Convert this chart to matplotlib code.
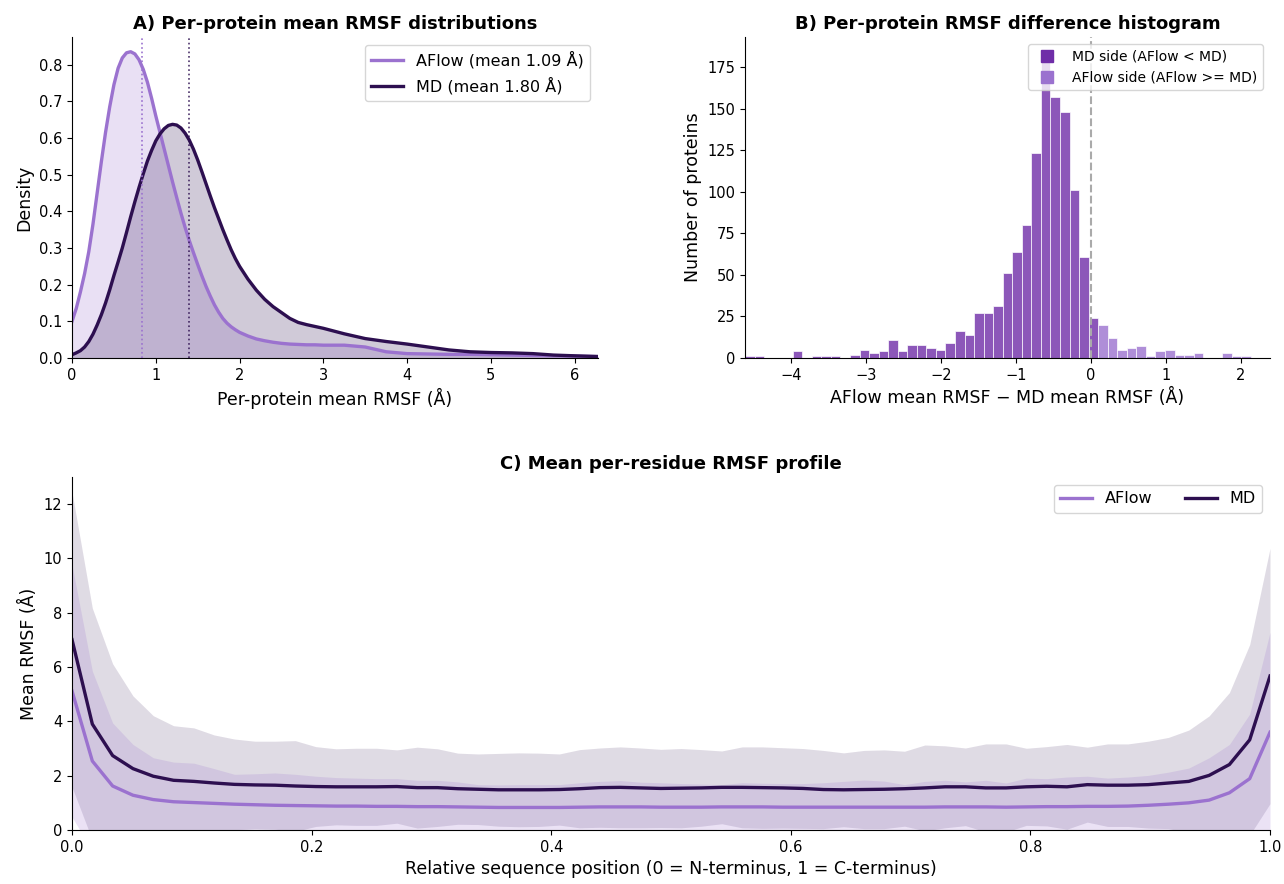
import numpy as np
import matplotlib
matplotlib.use("Agg")
import matplotlib.pyplot as plt
from matplotlib.lines import Line2D

# ---------------- data ----------------
# Panel A: KDE of per-protein mean RMSF
kde_x = [0.0, 0.05, 0.1, 0.15, 0.2, 0.25, 0.3, 0.35, 0.4, 0.45,
         0.5, 0.55, 0.6, 0.65, 0.7, 0.75, 0.8, 0.85, 0.9, 0.95,
         1.0, 1.05, 1.1, 1.15, 1.2, 1.25, 1.3, 1.35, 1.4, 1.45,
         1.5, 1.55, 1.6, 1.65, 1.7, 1.75, 1.8, 1.85, 1.9, 1.95,
         2.0, 2.1, 2.2, 2.3, 2.4, 2.5, 2.6, 2.7, 2.8, 2.9,
         3.0, 3.25, 3.5, 3.75, 4.0, 4.25, 4.5, 4.75, 5.0, 5.25,
         5.5, 5.75, 6.0, 6.28]
kde_aflow = [0.100, 0.135, 0.180, 0.230, 0.290, 0.365, 0.450, 0.535, 0.615, 0.685,
             0.745, 0.790, 0.818, 0.832, 0.835, 0.829, 0.813, 0.787, 0.752, 0.708,
             0.660, 0.615, 0.570, 0.525, 0.480, 0.437, 0.395, 0.356, 0.320, 0.287,
             0.255, 0.224, 0.195, 0.169, 0.145, 0.125, 0.108, 0.095, 0.085, 0.077,
             0.070, 0.060, 0.052, 0.047, 0.043, 0.040, 0.038, 0.037, 0.036, 0.036,
             0.035, 0.035, 0.030, 0.017, 0.012, 0.011, 0.010, 0.010, 0.009, 0.008,
             0.007, 0.006, 0.005, 0.004]
kde_md = [0.009, 0.014, 0.020, 0.030, 0.045, 0.065, 0.090, 0.118, 0.150, 0.186,
          0.225, 0.262, 0.300, 0.342, 0.385, 0.426, 0.465, 0.502, 0.537, 0.566,
          0.592, 0.611, 0.625, 0.634, 0.637, 0.635, 0.627, 0.613, 0.594, 0.569,
          0.540, 0.508, 0.475, 0.442, 0.410, 0.380, 0.350, 0.322, 0.295, 0.271,
          0.250, 0.215, 0.185, 0.160, 0.140, 0.124, 0.108, 0.097, 0.091, 0.086,
          0.081, 0.066, 0.053, 0.045, 0.038, 0.030, 0.022, 0.017, 0.015, 0.014,
          0.012, 0.008, 0.006, 0.004]
median_aflow = 0.84
median_md = 1.40
mean_aflow = 1.09
mean_md = 1.80

# Panel B: histogram of AFlow - MD differences
hist_lo, hist_hi, hist_nbins = -4.61, 2.39, 55
hist_counts = [1, 1, 0, 0, 0, 4, 0, 1, 1, 1,
               0, 2, 5, 3, 4, 11, 4, 8, 8, 6,
               5, 9, 16, 14, 27, 27, 31, 51, 64, 80,
               123, 178, 157, 148, 101, 61, 24, 20, 12, 5,
               6, 7, 1, 4, 5, 2, 2, 3, 0, 0,
               3, 1, 1, 0, 0]

# Panel C: mean per-residue RMSF profile (60 relative positions)
n_pos = 60
md_mean = [7.01, 3.90, 2.74, 2.26, 1.98, 1.83, 1.79, 1.73, 1.68, 1.66,
           1.65, 1.62, 1.60, 1.59, 1.59, 1.59, 1.60, 1.56, 1.56, 1.52,
           1.50, 1.48, 1.48, 1.48, 1.49, 1.52, 1.56, 1.57, 1.55, 1.53,
           1.54, 1.55, 1.57, 1.57, 1.56, 1.55, 1.53, 1.49, 1.48, 1.49,
           1.50, 1.52, 1.55, 1.59, 1.59, 1.55, 1.55, 1.59, 1.61, 1.59,
           1.67, 1.65, 1.65, 1.67, 1.73, 1.79, 2.01, 2.41, 3.32, 5.67]
md_std = [5.43, 4.27, 3.38, 2.68, 2.23, 2.01, 1.97, 1.77, 1.67, 1.61,
          1.62, 1.67, 1.47, 1.40, 1.42, 1.42, 1.35, 1.49, 1.43, 1.31,
          1.30, 1.34, 1.36, 1.35, 1.31, 1.44, 1.46, 1.49, 1.47, 1.44,
          1.46, 1.41, 1.34, 1.49, 1.50, 1.48, 1.47, 1.44, 1.36, 1.44,
          1.45, 1.38, 1.58, 1.51, 1.43, 1.62, 1.62, 1.42, 1.46, 1.56,
          1.38, 1.52, 1.52, 1.60, 1.68, 1.89, 2.19, 2.65, 3.51, 4.70]
aflow_mean = [5.12, 2.54, 1.62, 1.28, 1.12, 1.04, 1.01, 0.98, 0.95, 0.93,
              0.91, 0.90, 0.89, 0.88, 0.88, 0.87, 0.87, 0.86, 0.86, 0.85,
              0.84, 0.83, 0.83, 0.83, 0.83, 0.84, 0.85, 0.85, 0.85, 0.84,
              0.84, 0.84, 0.85, 0.85, 0.85, 0.84, 0.84, 0.84, 0.84, 0.84,
              0.84, 0.84, 0.84, 0.85, 0.85, 0.85, 0.84, 0.85, 0.86, 0.86,
              0.87, 0.87, 0.88, 0.91, 0.95, 1.00, 1.10, 1.37, 1.89, 3.60]
aflow_std = [4.64, 3.31, 2.32, 1.87, 1.54, 1.46, 1.45, 1.28, 1.10, 1.14,
             1.19, 1.15, 1.09, 1.05, 1.03, 1.02, 1.02, 0.97, 0.97, 0.92,
             0.83, 0.83, 0.84, 0.84, 0.84, 0.90, 0.94, 0.97, 0.91, 0.90,
             0.87, 0.85, 0.82, 0.89, 0.87, 0.87, 0.87, 0.90, 0.95, 1.00,
             0.96, 0.83, 0.95, 0.98, 0.92, 0.98, 0.89, 1.06, 1.03, 1.09,
             1.11, 1.04, 1.07, 1.10, 1.18, 1.28, 1.56, 1.78, 2.38, 3.68]

# ---------------- style ----------------
C_AFLOW = "#9b72cf"
C_MD = "#2d0f50"
C_MD_SIDE = "#6f2da8"

plt.rcParams['font.family'] = ['DejaVu Sans']
fig = plt.figure(figsize=(12.84, 8.84), dpi=100)

axA = fig.add_axes([0.0561, 0.595, 0.4097, 0.3631])
axB = fig.add_axes([0.5802, 0.595, 0.4089, 0.3631])
axC = fig.add_axes([0.0561, 0.0611, 0.9330, 0.3993])

for ax in (axA, axB, axC):
    ax.spines['top'].set_visible(False)
    ax.spines['right'].set_visible(False)
    ax.tick_params(labelsize=10.5)

TITLE_FS = 13
LABEL_FS = 12.5

# ---- Panel A ----
kx = np.array(kde_x)
axA.fill_between(kx, kde_aflow, color=C_AFLOW, alpha=0.22, lw=0)
axA.fill_between(kx, kde_md, color=C_MD, alpha=0.22, lw=0)
axA.plot(kx, kde_aflow, color=C_AFLOW, lw=2.4, label=f"AFlow (mean {mean_aflow:.2f} Å)")
axA.plot(kx, kde_md, color=C_MD, lw=2.4, label=f"MD (mean {mean_md:.2f} Å)")
axA.axvline(median_aflow, color=C_AFLOW, ls=':', lw=1.2)
axA.axvline(median_md, color=C_MD, ls=':', lw=1.2, alpha=0.85)
axA.set_xlim(0, 6.28)
axA.set_ylim(0, 0.875)
axA.set_yticks(np.arange(0, 0.81, 0.1))
axA.set_xlabel("Per-protein mean RMSF (Å)", fontsize=LABEL_FS)
axA.set_ylabel("Density", fontsize=LABEL_FS)
axA.set_title("A) Per-protein mean RMSF distributions", fontsize=TITLE_FS, fontweight='bold')
axA.legend(loc='upper right', fontsize=11.5, framealpha=0.8)

# ---- Panel B ----
edges = np.linspace(hist_lo, hist_hi, hist_nbins + 1)
counts = np.array(hist_counts)
left = edges[:-1]
width = np.diff(edges)
neg = left < 0
axB.bar(left[neg], counts[neg], width=width[neg], align='edge',
        color=C_MD_SIDE, alpha=0.8, edgecolor='white', linewidth=0.6)
axB.bar(left[~neg], counts[~neg], width=width[~neg], align='edge',
        color=C_AFLOW, alpha=0.8, edgecolor='white', linewidth=0.6)
axB.axvline(0, color='#aaaaaa', ls='--', lw=1.5)
axB.set_xlim(hist_lo, hist_hi)
axB.set_ylim(0, 193)
axB.set_yticks(np.arange(0, 176, 25))
axB.set_xlabel("AFlow mean RMSF − MD mean RMSF (Å)", fontsize=LABEL_FS)
axB.set_ylabel("Number of proteins", fontsize=LABEL_FS)
axB.set_title("B) Per-protein RMSF difference histogram", fontsize=TITLE_FS, fontweight='bold')
handlesB = [Line2D([], [], ls='', marker='s', markersize=8, color=C_MD_SIDE,
                   label="MD side (AFlow < MD)"),
            Line2D([], [], ls='', marker='s', markersize=8, color=C_AFLOW,
                   label="AFlow side (AFlow >= MD)")]
axB.legend(handles=handlesB, loc='upper right', fontsize=10, framealpha=0.8)

# ---- Panel C ----
pos = np.linspace(0, 1, n_pos)
mm, ms = np.array(md_mean), np.array(md_std)
am, asd = np.array(aflow_mean), np.array(aflow_std)
axC.fill_between(pos, mm - ms, mm + ms, color=C_MD, alpha=0.15, lw=0)
axC.fill_between(pos, am - asd, am + asd, color=C_AFLOW, alpha=0.2, lw=0)
axC.plot(pos, am, color=C_AFLOW, lw=2.4, label="AFlow")
axC.plot(pos, mm, color=C_MD, lw=2.4, label="MD")
axC.set_xlim(0, 1)
axC.set_ylim(0, 13)
axC.set_yticks(np.arange(0, 13, 2))
axC.set_xlabel("Relative sequence position (0 = N-terminus, 1 = C-terminus)", fontsize=LABEL_FS)
axC.set_ylabel("Mean RMSF (Å)", fontsize=LABEL_FS)
axC.set_title("C) Mean per-residue RMSF profile", fontsize=TITLE_FS, fontweight='bold')
axC.legend(loc='upper right', ncol=2, fontsize=11.5, framealpha=0.8)

fig.savefig("out.png", dpi=100)
